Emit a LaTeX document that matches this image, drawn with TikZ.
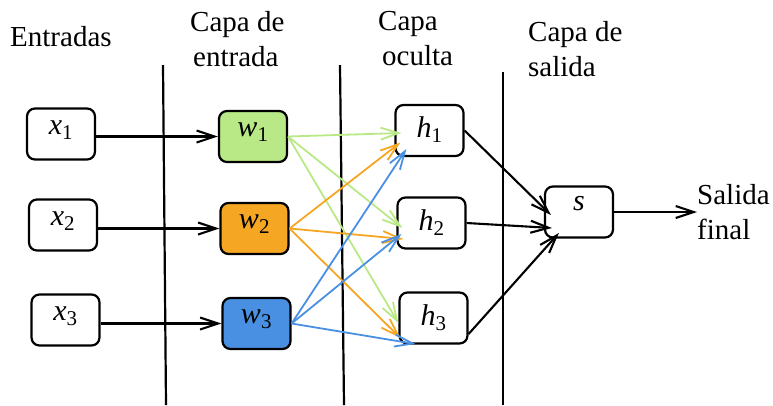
\documentclass[tikz,border=0pt]{standalone}
\usepackage{fontspec}
\setmainfont{Liberation Serif}
\usetikzlibrary{arrows.meta}

\definecolor{wgreen}{HTML}{B8E986}
\definecolor{worange}{HTML}{F5A623}
\definecolor{wblue}{HTML}{4A90E2}

\newcommand{\var}[2]{\textit{#1}\textsubscript{#2}}

\tikzset{
  unit/.style={draw=black, line width=2.2pt, rounded corners=8pt,
    minimum width=68pt, minimum height=51pt, inner sep=0pt,
    font=\fontsize{30}{34}\selectfont},
  midtext/.style={text height=0pt, text depth=0pt},
  lowtext/.style={text height=14pt, text depth=0pt},
  hightext/.style={text height=0pt, text depth=4pt},
  title/.style={font=\fontsize{29}{36}\selectfont, align=left, inner sep=0pt},
  tip/.style={-{Straight Barb[length=18pt,width=12pt]}},
  arr/.style={tip, line width=2.1pt, black},
  carr/.style={tip, line width=1.8pt},
  sep/.style={line width=2.2pt, black},
}

\begin{document}
\begin{tikzpicture}[x=1pt, y=-1pt]
  \useasboundingbox (0,0) rectangle (773,405);

  % layer separators
  \draw[sep] (163,65) -- (166,405);
  \draw[sep] (340,65) -- (344,405);
  \draw[sep] (503,72) -- (503,405);

  % column headings
  \node[title, anchor=west] (tin) at (10,37) {Entradas};
  \node[title, anchor=north west] (tl1) at (190,11) {Capa de\\[-1pt]\hspace*{3pt}entrada};
  \node[title, anchor=north west] (tl2) at (378,11) {Capa\\[-1pt]\hspace*{4pt}oculta};
  \node[title, anchor=north west] (tl3) at (528,21) {Capa de\\[-1pt]salida};
  \node[title, anchor=west] (tout) at (697,212) {Salida\\[-1pt]final};

  % inputs
  \node[unit, midtext] (x1) at (61,134) {\var{x}{1}};
  \node[unit, midtext] (x2) at (63,225) {\var{x}{2}};
  \node[unit, midtext] (x3) at (65.5,320) {\var{x}{3}};

  % input layer
  \node[unit, midtext, fill=wgreen]  (w1) at (253,136.5) {\var{w}{1}};
  \node[unit, midtext, fill=worange] (w2) at (254.5,228.5) {\var{w}{2}};
  \node[unit, midtext, fill=wblue]   (w3) at (256.5,323.5) {\var{w}{3}};

  % hidden layer
  \node[unit, lowtext] (h1) at (429.5,130.5) {\var{h}{1}};
  \node[unit, lowtext] (h2) at (431.5,223) {\var{h}{2}};
  \node[unit, lowtext] (h3) at (433.5,318) {\var{h}{3}};

  % output layer
  \node[unit, hightext] (s) at (579,212) {\textit{s}};
  \coordinate (out) at (697,212);

  % inputs to input layer
  \draw[arr] (x1.east |- w1.west) -- (w1.west);
  \draw[arr] (x2.east |- w2.west) -- (w2.west);
  \draw[arr] (x3.east |- w3.west) -- (w3.west);

  % input layer to hidden layer
  \draw[carr, wgreen] (w1.east) -- ([shift={(7,2.5)}]h1.west);
  \draw[carr, wgreen] (w1.east) -- ([shift={(6,5)}]h2.west);
  \draw[carr, wgreen] (w1.east) -- ([shift={(0,5)}]h3.west);

  \draw[carr, worange] (w2.east) -- ([shift={(6,12)}]h1.west);
  \draw[carr, worange] (w2.east) -- ([shift={(7,16)}]h2.west);
  \draw[carr, worange] (w2.east) -- ([shift={(2,20)}]h3.west);

  \draw[carr, wblue] (w3.east) -- ([shift={(12,18.5)}]h1.west);
  \draw[carr, wblue] (w3.east) -- ([shift={(5,11)}]h2.west);
  \draw[carr, wblue] (w3.east) -- ([shift={(17,26)}]h3.west);

  % hidden layer to output layer
  \draw[arr] (h1.east) -- ([shift={(7,3)}]s.west);
  \draw[arr] (h2.east) -- ([shift={(8,16)}]s.west);
  \draw[arr] ([yshift=-16pt]h3.east) -- ([shift={(15,21)}]s.west);

  % final output
  \draw[arr] (s.east) -- (out);
\end{tikzpicture}
\end{document}
